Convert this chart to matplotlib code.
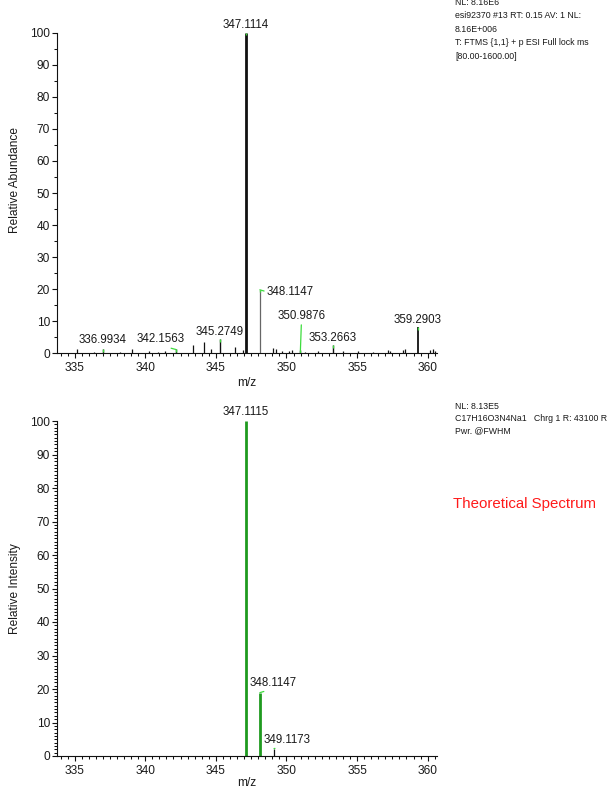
import matplotlib
matplotlib.use("Agg")
import matplotlib.pyplot as plt
from matplotlib.ticker import MultipleLocator

plt.rcParams['font.family'] = ['Liberation Sans', 'DejaVu Sans']

# ---- measured spectrum: labelled peaks ----
obs_label_mz = [336.9934, 342.1563, 345.2749, 347.1114, 348.1147, 350.9876, 353.2663, 359.2903]
obs_label_int = [1.2, 1.2, 4.4, 100.0, 19.8, 1.0, 2.6, 8.1]

# ---- measured spectrum: unlabelled minor peaks ----
obs_minor_mz = [335.18, 336.40, 338.20, 339.04, 340.30, 340.90, 341.40, 343.36, 344.16, 344.65,
                346.35, 346.90, 349.07, 349.26, 349.66, 350.20, 350.37, 351.30, 352.23, 354.02,
                355.08, 356.15, 357.20, 357.33, 358.27, 358.39, 360.16, 360.40, 360.52]
obs_minor_int = [1.2, 0.5, 0.5, 1.25, 0.6, 0.5, 0.7, 2.6, 3.4, 1.2,
                 1.9, 0.9, 1.5, 1.2, 0.6, 0.8, 0.9, 0.5, 0.6, 0.6,
                 0.8, 0.5, 0.9, 0.8, 1.1, 1.3, 0.9, 1.2, 0.8]

# ---- theoretical isotope pattern ----
theo_mz = [347.1115, 348.1147, 349.1173]
theo_int = [100.0, 18.9, 2.2]

x_major_ticks = [335, 340, 345, 350, 355, 360]
y_major_ticks = [0, 10, 20, 30, 40, 50, 60, 70, 80, 90, 100]

header_top = ["NL: 8.16E6",
              "esi92370 #13 RT: 0.15 AV: 1 NL:",
              "8.16E+006",
              "T: FTMS {1,1} + p ESI Full lock ms",
              "[80.00-1600.00]"]
header_bottom = ["NL: 8.13E5",
                 "C17H16O3N4Na1   Chrg 1 R: 43100 R",
                 "Pwr. @FWHM"]

W, H = 611, 791
fig = plt.figure(figsize=(W / 100, H / 100), dpi=100)

PX = 0.72  # points per pixel at 100 dpi
GREEN_MARK = '#3ddc3d'
GREEN_PEAK = '#1f9a1f'
TXT = '#1a1a1a'
FS_TICK = 8.6
FS_PEAK = 8.3
FS_HDR = 6.3

def fig_rect(left, top, right, bottom):
    return [left / W, 1 - bottom / H, (right - left) / W, (bottom - top) / H]

ax1 = fig.add_axes(fig_rect(57, 32.7, 437, 353.3))
ax2 = fig.add_axes(fig_rect(57, 421, 437, 756))


def style_axes(ax, yminor, ylabel, ylabel_y, xlabel_y):
    ax.set_xlim(333.75, 360.66)
    ax.set_ylim(0, 100)
    for s in ('top', 'right'):
        ax.spines[s].set_visible(False)
    for s in ('left', 'bottom'):
        ax.spines[s].set_linewidth(0.8)
        ax.spines[s].set_color('#111111')
    ax.set_xticks(x_major_ticks)
    ax.set_xticklabels([str(v) for v in x_major_ticks])
    ax.xaxis.set_minor_locator(MultipleLocator(0.5))
    ax.set_yticks(y_major_ticks)
    ax.set_yticklabels([str(v) for v in y_major_ticks])
    ax.yaxis.set_minor_locator(MultipleLocator(yminor))
    ax.tick_params(axis='both', which='major', direction='out', length=3.8, width=0.8,
                   labelsize=FS_TICK, colors='#111111', labelcolor=TXT)
    ax.tick_params(axis='x', which='major', pad=2.5)
    ax.tick_params(axis='y', which='major', pad=1.2)
    ax.tick_params(axis='both', which='minor', direction='out', length=2.4, width=0.75,
                   colors='#111111')
    ax.set_xlabel('m/z', fontsize=FS_TICK, color=TXT)
    ax.xaxis.set_label_coords(0.5, xlabel_y)
    ax.set_ylabel(ylabel, fontsize=FS_TICK, color=TXT)
    ax.yaxis.set_label_coords(-0.095, ylabel_y)
    ax.patch.set_alpha(0)


style_axes(ax1, 5, 'Relative Abundance', 0.54, -0.075)
style_axes(ax2, 1, 'Relative Intensity', 0.5, -0.064)

# ---- top panel: measured spectrum ----
ax1.vlines(obs_minor_mz, 0, obs_minor_int, colors='#111111', linewidth=0.9, clip_on=False)
for mz, h in zip(obs_label_mz, obs_label_int):
    if h >= 50:
        ax1.vlines(mz, 0, h, colors='#111111', linewidth=2.0, clip_on=False)
    elif 15 < h < 50:
        ax1.vlines(mz, 0, h, colors='#666666', linewidth=0.9, clip_on=False)
    else:
        ax1.vlines(mz, 0, h, colors='#111111', linewidth=1.3 if h > 5 else 1.0, clip_on=False)
    ax1.vlines(mz, max(h - 0.8, 0), h, colors=GREEN_MARK, linewidth=1.0, clip_on=False)

# label placement (offset in pixels from the peak apex; leader drawn when set)
top_layout = {
    336.9934: ((0, 3), 'center', 'bottom', False),
    342.1563: ((-15, 4), 'center', 'bottom', True),
    345.2749: ((0, 1), 'center', 'bottom', False),
    347.1114: ((0, 2), 'center', 'bottom', False),
    348.1147: ((7, -2), 'left', 'center', True),
    350.9876: ((1, 28), 'center', 'bottom', True),
    353.2663: ((0, 1), 'center', 'bottom', False),
    359.2903: ((0, 1), 'center', 'bottom', False),
}


def label_peaks(ax, mzs, ints, layout):
    for mz, h in zip(mzs, ints):
        (dx, dy), ha, va, leader = layout[mz]
        kw = {}
        if leader:
            relpos = (0.0, 0.5) if ha == 'left' else (0.5, 0.0)
            kw['arrowprops'] = dict(arrowstyle='-', color=GREEN_MARK, lw=0.9,
                                    shrinkA=0, shrinkB=0, relpos=relpos)
        ax.annotate(f"{mz:.4f}", xy=(mz, h), xytext=(dx * PX, dy * PX),
                    textcoords='offset points', ha=ha, va=va,
                    fontsize=FS_PEAK, color=TXT, annotation_clip=False, **kw)


label_peaks(ax1, obs_label_mz, obs_label_int, top_layout)

# ---- bottom panel: theoretical spectrum ----
for mz, h in zip(theo_mz, theo_int):
    if h > 10:
        ax2.vlines(mz, 0, h, colors=GREEN_PEAK, linewidth=2.0, clip_on=False)
    else:
        ax2.vlines(mz, 0, h, colors='#111111', linewidth=0.9, clip_on=False)

bottom_layout = {
    347.1115: ((0, 3), 'center', 'bottom', False),
    348.1147: ((13, 4), 'center', 'bottom', True),
    349.1173: ((13, 3), 'center', 'bottom', True),
}
label_peaks(ax2, theo_mz, theo_int, bottom_layout)

# ---- header texts ----
hx = 455 / W
for i, line in enumerate(header_top):
    fig.text(hx, 1 - (2.5 + 13.4 * i) / H, line, fontsize=FS_HDR, color=TXT,
             ha='left', va='center')
for i, line in enumerate(header_bottom):
    fig.text(hx, 1 - (406.7 + 12.0 * i) / H, line, fontsize=FS_HDR, color=TXT,
             ha='left', va='center')

fig.text(453 / W, 1 - 504 / H, 'Theoretical Spectrum', fontsize=10.8, color='#ff1a1a',
         ha='left', va='center')

fig.savefig('out.png', dpi=100, facecolor='white')
